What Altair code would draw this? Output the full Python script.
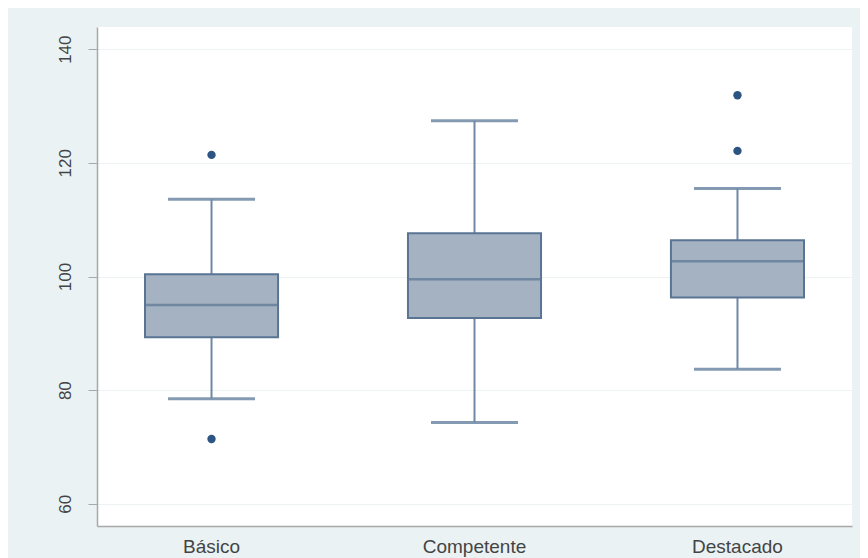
import altair as alt
import pandas as pd

categories = ["Básico", "Competente", "Destacado"]
q1 = [89.3, 92.7, 96.3]
median = [95.0, 99.5, 102.7]
q3 = [100.4, 107.6, 106.4]
whisker_low = [78.5, 74.3, 83.7]
whisker_high = [113.6, 127.4, 115.5]
outlier_cat = ["Básico", "Básico", "Destacado", "Destacado"]
outlier_val = [121.4, 71.4, 131.9, 122.1]
y_ticks = [60, 80, 100, 120, 140]

box = pd.DataFrame({"cat": categories, "q1": q1, "med": median, "q3": q3,
                    "lo": whisker_low, "hi": whisker_high})
caps = pd.DataFrame({"cat": categories * 2, "v": whisker_low + whisker_high})
outl = pd.DataFrame({"cat": outlier_cat, "v": outlier_val})

FONT = "Liberation Sans"
FILL = "#a5b2c2"
STROKE = "#5a7594"
WHISK = "#6f88a5"
DOT = "#2d5584"

xscale = alt.Scale(paddingInner=0.494, paddingOuter=0.1825)
yscale = alt.Scale(domain=[56.1, 143.9], nice=False, zero=False)

xenc = alt.X("cat:N", scale=xscale, sort=categories, title=None,
             axis=alt.Axis(labelAngle=0, ticks=False, grid=False, domainColor="#a8a8a8",
                           domainWidth=1.5, labelFont=FONT, labelFontSize=19,
                           labelColor="#444444", labelPadding=11))
yaxis = alt.Axis(values=y_ticks, grid=True, gridColor="#edf3f4", gridWidth=1,
                 domainColor="#a8a8a8", domainWidth=1.5, tickColor="#a8a8a8",
                 tickSize=9, tickWidth=1, labelAngle=270, labelAlign="center",
                 labelBaseline="bottom", labelFont=FONT, labelFontSize=17,
                 labelColor="#444444", labelPadding=14)

whisk = alt.Chart(box).mark_rule(color=WHISK, strokeWidth=2).encode(
    x=xenc,
    y=alt.Y("lo:Q", scale=yscale, axis=yaxis, title=None),
    y2="hi:Q",
)
cap = alt.Chart(caps).mark_tick(color=WHISK, size=87, thickness=3, opacity=0.85).encode(
    x=alt.X("cat:N", sort=categories),
    y=alt.Y("v:Q"),
)
bars = alt.Chart(box).mark_bar(fill=FILL, stroke=STROKE, strokeWidth=2).encode(
    x=alt.X("cat:N", sort=categories),
    y=alt.Y("q1:Q"),
    y2="q3:Q",
)
med = alt.Chart(box).mark_tick(color=STROKE, size=131, thickness=2.5).encode(
    x=alt.X("cat:N", sort=categories),
    y=alt.Y("med:Q"),
)
dots = alt.Chart(outl).mark_circle(color=DOT, size=70, opacity=1).encode(
    x=alt.X("cat:N", sort=categories),
    y=alt.Y("v:Q"),
)

chart = alt.layer(whisk, cap, bars, med, dots).properties(
    width=755, height=499,
    autosize=alt.AutoSizeParams(type="none"),
    padding={"left": 89, "top": 19, "right": 8, "bottom": 32},
    background="#eaf2f3",
).configure_view(fill="white", strokeWidth=0)

chart.save("out.html", embed_options={"renderer": "svg", "actions": False})
